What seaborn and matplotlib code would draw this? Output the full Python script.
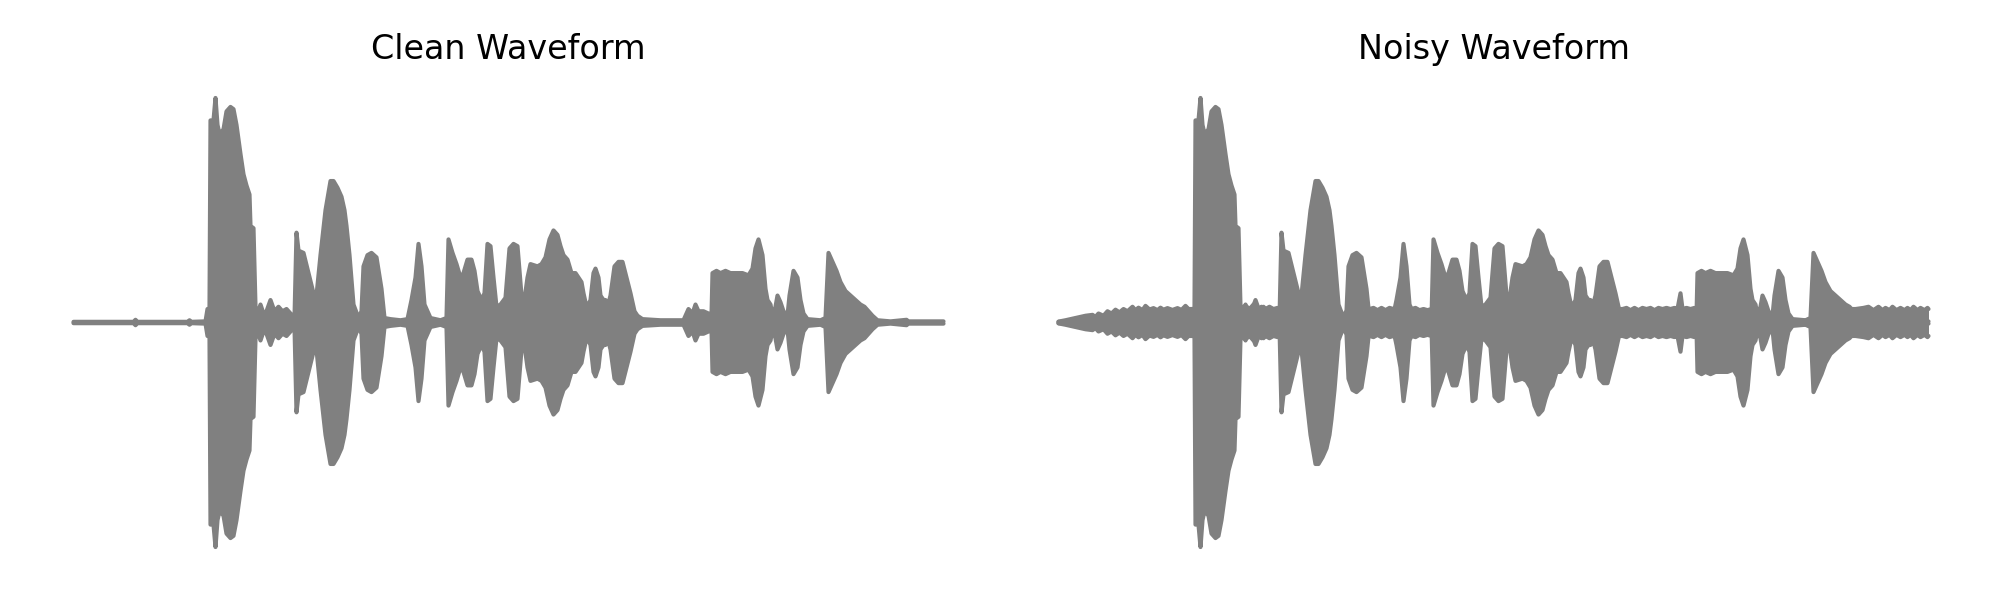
import numpy as np
import pandas as pd
import matplotlib
matplotlib.use("Agg")
import matplotlib.pyplot as plt
import seaborn as sns

# ---- Data (envelope of the waveform) ----
titles = ["Clean Waveform", "Noisy Waveform"]

# frame index along the recording and peak amplitude (symmetric envelope)
clean_frames = [0, 60, 62, 64, 114, 116, 118, 132, 134, 136, 137, 140, 142, 144, 146, 150, 153,
                157, 160, 163, 167, 170, 173, 176, 177, 180, 182, 185, 187, 190, 193, 197, 201,
                205, 209, 213, 217, 221, 223, 225, 230, 235, 240, 243, 247, 252, 257, 260, 264,
                268, 271, 273, 276, 280, 285, 288, 290, 294, 298, 303, 308, 311, 317, 327, 334,
                338, 342, 345, 348, 351, 357, 367, 373, 375, 379, 383, 387, 390, 394, 398, 401,
                404, 408, 411, 414, 417, 420, 423, 427, 432, 436, 440, 444, 448, 450, 454, 457,
                464, 468, 472, 476, 480, 484, 487, 490, 494, 498, 502, 505, 508, 510, 512, 514,
                517, 520, 522, 525, 527, 530, 532, 534, 537, 541, 545, 549, 553, 557, 561, 564,
                569, 587, 610, 613, 615, 619, 622, 625, 630, 635, 638, 639, 643, 647, 652, 657,
                663, 669, 675, 679, 682, 685, 689, 692, 694, 697, 699, 702, 704, 707, 710, 714,
                716, 720, 724, 727, 730, 734, 747, 752, 755, 759, 763, 767, 772, 777, 782, 787,
                791, 795, 799, 804, 817, 833, 835, 847, 870]
clean_amp = [0.003, 0.003, 0.012, 0.003, 0.003, 0.01, 0.003, 0.005, 0.06, 0.06, 0.9, 0.9, 1.0,
             0.88, 0.84, 0.86, 0.94, 0.96, 0.95, 0.88, 0.75, 0.66, 0.61, 0.57, 0.43, 0.42, 0.07,
             0.05, 0.08, 0.04, 0.05, 0.1, 0.05, 0.07, 0.05, 0.06, 0.04, 0.02, 0.4, 0.32, 0.31,
             0.22, 0.13, 0.12, 0.3, 0.5, 0.63, 0.63, 0.6, 0.56, 0.5, 0.43, 0.3, 0.08, 0.02, 0.05,
             0.25, 0.3, 0.31, 0.29, 0.15, 0.02, 0.015, 0.01, 0.015, 0.1, 0.2, 0.35, 0.25, 0.08,
             0.02, 0.01, 0.02, 0.37, 0.31, 0.26, 0.2, 0.22, 0.28, 0.28, 0.23, 0.14, 0.1, 0.13,
             0.35, 0.34, 0.2, 0.07, 0.08, 0.11, 0.33, 0.35, 0.34, 0.12, 0.07, 0.2, 0.26, 0.25,
             0.26, 0.29, 0.37, 0.41, 0.39, 0.34, 0.3, 0.28, 0.22, 0.22, 0.2, 0.18, 0.13, 0.09,
             0.07, 0.1, 0.22, 0.24, 0.2, 0.12, 0.1, 0.1, 0.07, 0.12, 0.25, 0.27, 0.27, 0.2, 0.13,
             0.05, 0.03, 0.015, 0.01, 0.01, 0.04, 0.06, 0.04, 0.08, 0.05, 0.05, 0.04, 0.03, 0.22,
             0.23, 0.22, 0.23, 0.22, 0.22, 0.22, 0.21, 0.24, 0.33, 0.37, 0.3, 0.15, 0.1, 0.08,
             0.03, 0.07, 0.12, 0.09, 0.05, 0.03, 0.12, 0.23, 0.2, 0.1, 0.04, 0.015, 0.01, 0.02,
             0.31, 0.27, 0.23, 0.18, 0.14, 0.12, 0.1, 0.08, 0.07, 0.05, 0.03, 0.01, 0.005, 0.012,
             0.005, 0.005, 0.005]

# additive noise floor visible in the noisy recording
noise_frames = [0, 7, 15, 22, 27, 34, 37, 40, 45, 49, 53, 57, 61, 65, 69, 74, 77, 80, 84, 87,
                91, 95, 99, 102, 105, 109, 114, 119, 123, 127, 130, 132, 182, 187, 191, 195, 199,
                203, 207, 211, 215, 219, 223, 276, 282, 285, 288, 290, 308, 311, 315, 319, 323,
                327, 331, 335, 339, 351, 353, 357, 361, 365, 369, 373, 450, 561, 564, 568, 572,
                576, 580, 584, 588, 592, 596, 600, 604, 608, 612, 616, 619, 622, 624, 628, 632,
                636, 639, 694, 699, 704, 709, 713, 716, 727, 731, 735, 742, 749, 753, 755, 797,
                805, 810, 815, 820, 824, 827, 831, 834, 838, 842, 846, 849, 852, 855, 859, 862,
                866, 869, 870]
noise_amp = [0.004, 0.01, 0.018, 0.025, 0.03, 0.034, 0.025, 0.04, 0.03, 0.05, 0.04, 0.057, 0.045,
             0.06, 0.05, 0.07, 0.055, 0.066, 0.055, 0.074, 0.058, 0.064, 0.055, 0.066, 0.057,
             0.064, 0.056, 0.064, 0.056, 0.074, 0.06, 0.06, 0.065, 0.075, 0.06, 0.08, 0.06, 0.07,
             0.06, 0.07, 0.06, 0.065, 0.06, 0.06, 0.05, 0.03, 0.05, 0.06, 0.06, 0.06, 0.065,
             0.055, 0.065, 0.055, 0.065, 0.06, 0.06, 0.06, 0.06, 0.065, 0.055, 0.06, 0.055, 0.06,
             0.06, 0.06, 0.06, 0.065, 0.055, 0.065, 0.055, 0.065, 0.06, 0.065, 0.055, 0.065,
             0.06, 0.065, 0.06, 0.065, 0.06, 0.13, 0.06, 0.065, 0.06, 0.065, 0.06, 0.06, 0.06,
             0.06, 0.04, 0.02, 0.02, 0.04, 0.02, 0.01, 0.008, 0.01, 0.02, 0.06, 0.06, 0.065,
             0.07, 0.055, 0.07, 0.055, 0.065, 0.055, 0.07, 0.055, 0.065, 0.055, 0.065, 0.055,
             0.07, 0.055, 0.065, 0.055, 0.065, 0.06]

# ---- Plot ----
sns.set_theme(style="white")
plt.rcParams['font.family'] = ['DejaVu Sans']
color = "gray"

W, H = 2000.0, 600.0
fig = plt.figure(figsize=(10, 3), dpi=200)
ax_left = fig.add_axes([30 / W, 1 - 569.5 / H, 957 / W, 494 / H])
ax_right = fig.add_axes([1015 / W, 1 - 569.5 / H, 957 / W, 494 / H])
axes = [ax_left, ax_right]

def draw_env(ax, frames, amp):
    f = np.asarray(frames, dtype=float)
    a = np.asarray(amp, dtype=float)
    ax.fill_between(f, -a, a, color=color, linewidth=0)
    df = pd.DataFrame({"frame": np.concatenate([f, f]),
                       "amp": np.concatenate([a, -a]),
                       "side": ["upper"] * len(f) + ["lower"] * len(f)})
    sns.lineplot(data=df, x="frame", y="amp", units="side", estimator=None, sort=False,
                 color=color, linewidth=1.5, ax=ax, legend=False)

draw_env(axes[0], clean_frames, clean_amp)
draw_env(axes[1], clean_frames, clean_amp)
draw_env(axes[1], noise_frames, noise_amp)

for ax, t in zip(axes, titles):
    ax.set_xlim(-43.5, 913.5)
    ax.set_ylim(-1.1, 1.1)
    ax.set_title(t, fontsize=12, color="black")
    ax.axis("off")

fig.savefig("out.png", dpi=200)
